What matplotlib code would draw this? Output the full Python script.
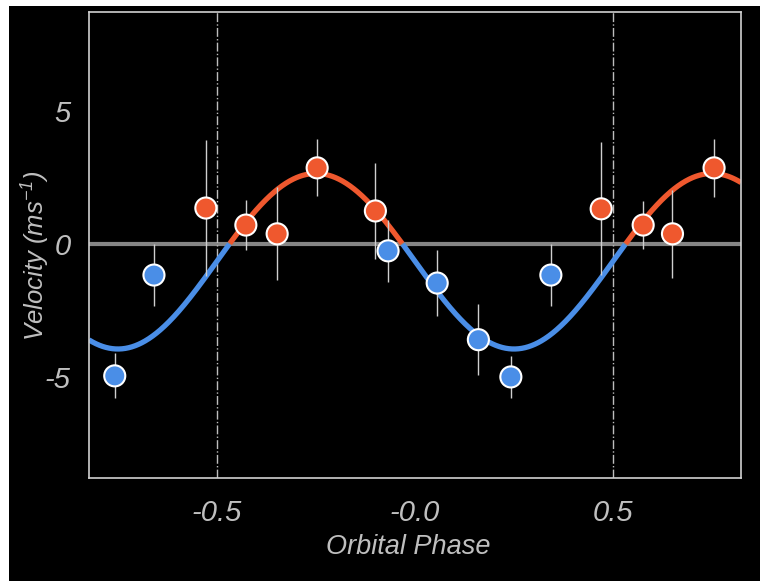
import numpy as np
import matplotlib.pyplot as plt
from matplotlib.patches import Rectangle

# measured radial velocities (phase-folded, with wrapped repeats)
phase = [-0.758, -0.659, -0.528, -0.427, -0.348, -0.247, -0.100, -0.068,
         0.056, 0.160, 0.242, 0.343, 0.470, 0.576, 0.650, 0.755]
velocity = [-4.96, -1.17, 1.35, 0.71, 0.38, 2.86, 1.24, -0.26,
            -1.47, -3.60, -5.00, -1.17, 1.32, 0.71, 0.38, 2.86]
vel_err = [0.85, 1.15, 2.55, 0.95, 1.75, 1.07, 1.80, 1.17,
           1.25, 1.33, 0.80, 1.15, 2.50, 0.90, 1.65, 1.10]

# sinusoid fit: v = offset - amp * sin(2 pi phase)
fit_offset = -0.65
fit_amp = 3.3

xtick_pos = [-0.5, 0.0, 0.5]
xtick_labels = ['-0.5', '-0.0', '0.5']
ytick_pos = [-5, 0, 5]
ytick_labels = ['-5', '0', '5']

ORANGE = '#EF582E'
BLUE = '#4A8EE7'
TEXT = '#bfbfbf'

plt.rcParams['mathtext.fontset'] = 'custom'
plt.rcParams['mathtext.rm'] = 'Liberation Sans:italic'
plt.rcParams['mathtext.it'] = 'Liberation Sans:italic'
plt.rcParams['mathtext.default'] = 'it'

font = dict(family='Liberation Sans', style='italic', color=TEXT)

fig = plt.figure(figsize=(7.6, 5.81), dpi=100, facecolor='white')
fig.patches.append(Rectangle((9 / 760, 0), 1, 1 - 6 / 581, transform=fig.transFigure,
                             facecolor='black', edgecolor='none', zorder=-10))
ax = fig.add_axes([89 / 760, 1 - 478 / 581, 652 / 760, 466 / 581])
ax.set_facecolor('black')

xmin, xmax = -0.823, 0.823
ax.set_xlim(xmin, xmax)
ax.set_ylim(-8.8, 8.72)

# zero line and half-phase markers
ax.axhline(0, color='#858585', lw=3, zorder=1)
for xv in [-0.5, 0.5]:
    ax.axvline(xv, color='#bdbdbd', lw=1, ls='-.', zorder=1)

# model curve, coloured by sign
xx = np.linspace(xmin, xmax, 1200)
yy = fit_offset - fit_amp * np.sin(2 * np.pi * xx)
ax.plot(xx, np.where(yy >= 0, yy, np.nan), color=ORANGE, lw=3.8, zorder=2,
        solid_capstyle='butt')
ax.plot(xx, np.where(yy <= 0, yy, np.nan), color=BLUE, lw=3.8, zorder=2,
        solid_capstyle='butt')

# data points
ph = np.array(phase)
v = np.array(velocity)
e = np.array(vel_err)
ax.errorbar(ph, v, yerr=e, fmt='none', ecolor='#cfcfcf', elinewidth=1, zorder=3)
cols = [ORANGE if val > 0 else BLUE for val in v]
ax.scatter(ph, v, s=230, c=cols, edgecolors='white', linewidths=1.5, zorder=4)

for sp in ax.spines.values():
    sp.set_color('#d0d0d0')
    sp.set_linewidth(1.2)

ax.set_xticks(xtick_pos)
ax.set_xticklabels(xtick_labels, fontsize=21, **font)
ax.set_yticks(ytick_pos)
ax.set_yticklabels(ytick_labels, fontsize=21, **font)
ax.tick_params(axis='x', length=0, pad=15)
ax.tick_params(axis='y', length=0, pad=13)

ax.set_xlabel('Orbital Phase', fontsize=19.5, **font)
ax.xaxis.set_label_coords(0.489, -0.12)
ax.set_ylabel('Velocity (ms$^{-1}$)', fontsize=18.5, **font)
ax.yaxis.set_label_coords(-0.057, 0.478)

fig.savefig('out.png', dpi=100, facecolor=fig.get_facecolor())
